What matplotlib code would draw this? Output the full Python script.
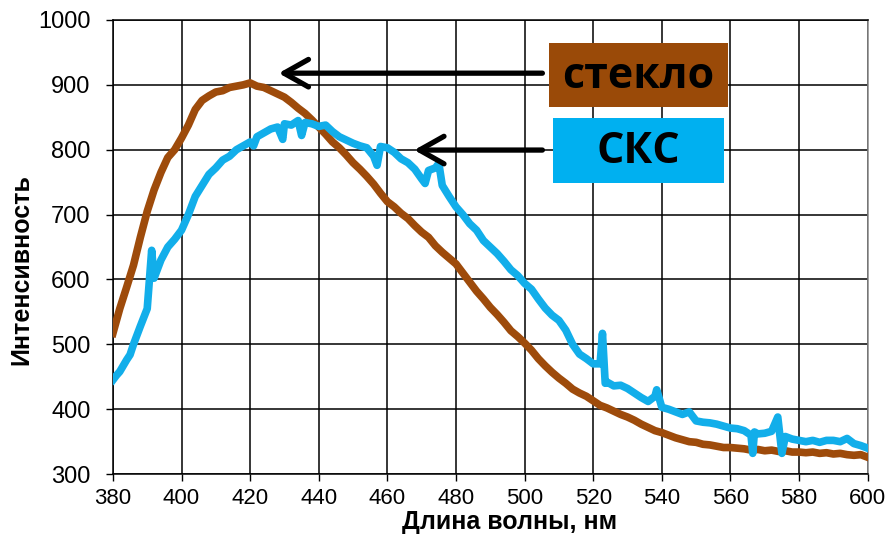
import matplotlib
matplotlib.use("Agg")
from matplotlib import pyplot as plt
from matplotlib.patches import Rectangle

# стекло (glass) spectrum, 2 nm step
glass_x = list(range(380, 601, 2))
glass_y = [517, 555, 588, 622, 665, 705, 738, 765, 788, 800,
           818, 838, 862, 876, 883, 889, 891, 896, 898, 900,
           903, 898, 896, 891, 886, 881, 873, 864, 856, 846,
           835, 824, 812, 803, 792, 780, 770, 759, 747, 733,
           720, 712, 702, 694, 683, 673, 665, 652, 642, 633,
           624, 610, 596, 582, 570, 557, 546, 534, 521, 512,
           502, 491, 478, 467, 457, 448, 440, 431, 425, 420,
           413, 406, 402, 397, 392, 388, 383, 377, 372, 367,
           364, 360, 356, 353, 350, 349, 346, 345, 343, 341,
           341, 340, 339, 337, 338, 336, 337, 335, 336, 334,
           334, 333, 334, 332, 333, 331, 332, 330, 329, 330,
           326]

# СКС spectrum (with the spikes kept)
sks_x = [380, 381, 382, 384, 385, 386, 388, 390, 391.3, 392, 394, 396, 398,
         400, 402, 404, 406, 408, 410, 412, 414, 416, 418,
         420, 421, 422, 424, 426, 428, 429.5, 430, 432, 434, 435, 436, 438,
         440, 442, 444, 446, 448, 450, 452, 454, 456, 457, 458,
         460, 462, 464, 466, 468, 470, 471, 472, 474, 475, 476, 478,
         480, 482, 484, 486, 488, 490, 492, 494, 496, 498,
         500, 502, 504, 506, 508, 510, 512, 514, 516, 518,
         520, 522, 522.7, 523.5, 524, 526, 528, 530, 532, 534, 536, 538, 538.5,
         540, 542, 544, 546, 548, 550, 552, 554, 556, 558,
         560, 562, 564, 566, 566.5, 567, 568, 570, 572, 573.8, 575, 576, 578,
         580, 582, 584, 586, 588, 590, 592, 594, 596, 598, 600]
sks_y = [445, 452, 458, 476, 484, 500, 528, 555, 645, 602, 630, 650, 662,
         676, 700, 728, 745, 762, 772, 784, 790, 800, 806,
         812, 806, 820, 826, 832, 835, 816, 840, 838, 845, 822, 842, 840,
         836, 838, 828, 820, 815, 810, 806, 803, 790, 776, 805,
         803, 796, 786, 780, 770, 755, 748, 768, 772, 779, 745, 728,
         712, 700, 686, 676, 660, 650, 640, 628, 615, 606,
         594, 585, 570, 556, 545, 537, 522, 500, 485, 478,
         470, 470, 517, 440, 442, 436, 437, 432, 425, 418, 412, 420, 430,
         403, 400, 396, 392, 396, 382, 380, 379, 377, 374,
         371, 370, 367, 360, 332, 365, 362, 363, 366, 388, 332, 358, 354,
         352, 350, 352, 349, 352, 352, 350, 355, 347, 344, 340]

x_ticks = list(range(380, 601, 20))
y_ticks = list(range(300, 1001, 100))

brown = "#9E4B0B"
blue = "#12AEEA"

plt.rcParams['font.family'] = ['Liberation Sans', 'DejaVu Sans']

fig = plt.figure(figsize=(8.89, 5.4), dpi=100)
ax = fig.add_axes([0.127, 0.122, 0.849, 0.841])

ax.plot(glass_x, glass_y, color=brown, lw=5.5, solid_joinstyle='round', zorder=3)
ax.plot(sks_x, sks_y, color=blue, lw=5.5, solid_joinstyle='round', zorder=3)

ax.set_xlim(380, 600)
ax.set_ylim(300, 1000)
ax.set_xticks(x_ticks)
ax.set_yticks(y_ticks)
ax.grid(True, color='black', lw=1.1)
ax.set_axisbelow(True)
ax.tick_params(direction='out', length=5, width=1)
ax.tick_params(axis='y', labelsize=17, pad=11)
ax.tick_params(axis='x', labelsize=16, pad=5)
for s in ax.spines.values():
    s.set_linewidth(1.1)
ax.spines['right'].set_color('#888888')

ax.set_xlabel("Длина волны, нм", fontsize=18, fontweight='bold')
ax.set_ylabel("Интенсивность", fontsize=18, fontweight='bold')
ax.xaxis.set_label_coords(0.526, -0.08)
ax.yaxis.set_label_coords(-0.106, 0.45)

# labels with arrows
ax.add_patch(Rectangle((507.0, 865.8), 52.2, 98.7, facecolor='#9A4A08',
                       edgecolor='none', clip_on=False, zorder=4))
ax.text(533.1, 913, "стекло", fontsize=31, fontweight='bold', family='Open Sans',
        ha='center', va='center', zorder=5)
ax.add_patch(Rectangle((508.2, 748.7), 49.8, 100.2, facecolor='#00B0F0',
                       edgecolor='none', clip_on=False, zorder=4))
ax.text(533.1, 797, "СКС", fontsize=31, fontweight='bold', family='Open Sans',
        ha='center', va='center', zorder=5)

arrow = dict(arrowstyle='->, head_length=0.8, head_width=0.45', color='black',
             lw=3.8, mutation_scale=22)
ax.annotate("", xy=(427.5, 918), xytext=(506, 918), arrowprops=arrow, zorder=4)
ax.annotate("", xy=(467, 799.5), xytext=(506, 799.5), arrowprops=arrow, zorder=4)

fig.savefig("out.png", dpi=100)
